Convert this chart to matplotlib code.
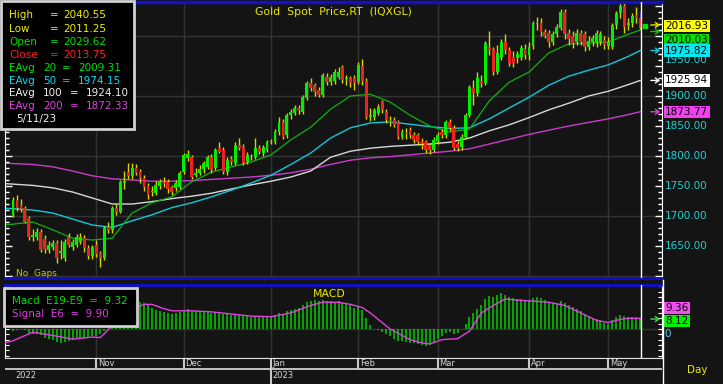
import numpy as np
import pandas as pd
import matplotlib
matplotlib.use('Agg')
import matplotlib.pyplot as plt
from matplotlib.patches import Rectangle

W, H = 723, 384
BG = '#141414'
GRID = '#333333'
YEL = '#e8e800'

dates = pd.bdate_range('2022-10-03', '2023-05-11')

# daily candles (open, high, low, close)
opens = [1702, 1727, 1718, 1713, 1697, 1665, 1665, 1673, 1662, 1643,
         1648, 1655, 1638, 1630, 1665, 1648, 1652, 1657, 1663, 1647,
         1633, 1652, 1638, 1630, 1682, 1677, 1713, 1707, 1755, 1773,
         1767, 1780, 1773, 1763, 1750, 1740, 1738, 1750, 1757, 1757,
         1748, 1747, 1748, 1773, 1797, 1798, 1768, 1772, 1778, 1782,
         1798, 1780, 1813, 1810, 1773, 1795, 1788, 1818, 1815, 1790,
         1798, 1798, 1813, 1805, 1810, 1824, 1823, 1840, 1857, 1835,
         1868, 1872, 1880, 1873, 1897, 1922, 1918, 1910, 1902, 1932,
         1923, 1925, 1932, 1948, 1928, 1930, 1930, 1923, 1950, 1925,
         1865, 1865, 1872, 1890, 1873, 1858, 1860, 1857, 1832, 1838,
         1843, 1835, 1835, 1823, 1823, 1818, 1810, 1825, 1840, 1835,
         1857, 1847, 1820, 1815, 1832, 1868, 1913, 1905, 1925, 1922,
         1982, 1978, 1940, 1965, 1990, 1977, 1965, 1963, 1965, 1978,
         1968, 1983, 2020, 2022, 2007, 2005, 1990, 2003, 2014, 2040,
         2005, 2000, 1990, 2005, 2003, 1982, 1990, 1988, 1990, 1993,
         1983, 1982, 2018, 2038, 2050, 2018, 2022, 2035, 2029.62]
highs = [1731, 1735, 1728, 1716, 1700, 1678, 1680, 1678, 1668, 1658,
         1660, 1660, 1660, 1662, 1672, 1662, 1670, 1672, 1668, 1652,
         1652, 1660, 1642, 1683, 1690, 1717, 1720, 1760, 1775, 1788,
         1788, 1787, 1778, 1768, 1755, 1750, 1758, 1762, 1765, 1762,
         1752, 1760, 1775, 1805, 1810, 1802, 1780, 1785, 1792, 1802,
         1804, 1813, 1823, 1815, 1798, 1800, 1823, 1830, 1820, 1806,
         1804, 1830, 1818, 1818, 1826, 1828, 1845, 1865, 1862, 1872,
         1878, 1885, 1885, 1902, 1925, 1930, 1922, 1915, 1938, 1938,
         1936, 1945, 1948, 1952, 1935, 1934, 1935, 1957, 1962, 1930,
         1880, 1880, 1887, 1893, 1878, 1866, 1865, 1860, 1845, 1847,
         1848, 1840, 1838, 1830, 1827, 1822, 1832, 1840, 1845, 1860,
         1862, 1852, 1825, 1836, 1872, 1918, 1927, 1940, 1935, 1992,
         2008, 1982, 1985, 1995, 2003, 1982, 1975, 1975, 1985, 1987,
         1990, 2025, 2032, 2030, 2012, 2010, 2008, 2020, 2045, 2045,
         2012, 2008, 2012, 2010, 2008, 2000, 2002, 2010, 2008, 2000,
         1998, 2022, 2042, 2072, 2062, 2030, 2038, 2048, 2040.55]
lows = [1698, 1708, 1707, 1688, 1660, 1658, 1660, 1640, 1638, 1638,
        1644, 1622, 1628, 1625, 1648, 1644, 1648, 1654, 1640, 1628,
        1628, 1632, 1615, 1627, 1672, 1672, 1702, 1705, 1745, 1762,
        1762, 1768, 1755, 1742, 1728, 1733, 1735, 1745, 1748, 1738,
        1735, 1742, 1745, 1770, 1792, 1762, 1765, 1768, 1772, 1778,
        1772, 1776, 1805, 1770, 1768, 1785, 1785, 1810, 1785, 1786,
        1794, 1795, 1803, 1800, 1806, 1820, 1820, 1835, 1828, 1830,
        1862, 1868, 1870, 1870, 1893, 1908, 1900, 1898, 1898, 1918,
        1918, 1920, 1928, 1922, 1918, 1915, 1910, 1920, 1918, 1862,
        1858, 1860, 1868, 1872, 1855, 1850, 1848, 1828, 1828, 1828,
        1830, 1822, 1818, 1812, 1805, 1804, 1806, 1820, 1830, 1830,
        1842, 1810, 1808, 1810, 1828, 1865, 1885, 1900, 1915, 1918,
        1968, 1935, 1936, 1960, 1970, 1950, 1948, 1955, 1960, 1962,
        1960, 1978, 2010, 2000, 1996, 1982, 1985, 1998, 2010, 1995,
        1985, 1980, 1985, 1985, 1975, 1976, 1984, 1982, 1985, 1978,
        1978, 1978, 2012, 2030, 2005, 2010, 2015, 2022, 2011.25]
closes = [1727, 1714, 1712, 1690, 1665, 1668, 1673, 1643, 1645, 1652,
          1655, 1630, 1642, 1657, 1652, 1657, 1665, 1665, 1647, 1633,
          1648, 1637, 1630, 1680, 1677, 1713, 1707, 1757, 1758, 1767,
          1780, 1772, 1763, 1748, 1735, 1742, 1752, 1757, 1755, 1745,
          1740, 1755, 1772, 1802, 1803, 1765, 1772, 1778, 1788, 1798,
          1777, 1810, 1807, 1773, 1793, 1790, 1818, 1813, 1788, 1802,
          1799, 1813, 1807, 1815, 1823, 1825, 1840, 1857, 1832, 1868,
          1873, 1880, 1876, 1898, 1922, 1913, 1907, 1902, 1935, 1923,
          1932, 1940, 1940, 1927, 1930, 1922, 1922, 1952, 1925, 1865,
          1868, 1877, 1882, 1877, 1860, 1857, 1852, 1832, 1840, 1837,
          1835, 1827, 1823, 1822, 1810, 1810, 1827, 1835, 1835, 1857,
          1847, 1813, 1813, 1832, 1868, 1915, 1905, 1930, 1922, 1988,
          1977, 1940, 1972, 1990, 1977, 1955, 1955, 1970, 1980, 1968,
          1982, 2022, 2021, 2007, 2000, 1990, 2003, 2015, 2040, 2003,
          1995, 1988, 2005, 1990, 1982, 1992, 1997, 2005, 2003, 1985,
          1990, 2018, 2038, 2050, 2015, 2022, 2033, 2030, 2013.75]
last_price = 2016.93

# moving averages, read every few bars
ema_idx = [-2, 5, 10, 15, 20, 25, 30, 35, 40, 45, 50, 55, 60, 65, 70, 75, 80,
           85, 90, 95, 100, 105, 110, 115, 120, 125, 130, 135, 140, 145, 150,
           155, 158]
ema20 = [1685, 1690, 1677, 1663, 1660, 1663, 1705, 1722, 1732, 1757, 1773,
         1782, 1790, 1802, 1827, 1848, 1878, 1900, 1903, 1890, 1868, 1850,
         1840, 1845, 1892, 1923, 1940, 1972, 1987, 1988, 1990, 2003, 2010.03]
ema50 = [1713, 1710, 1705, 1695, 1685, 1681, 1692, 1702, 1714, 1722, 1732,
         1743, 1755, 1768, 1786, 1805, 1830, 1847, 1855, 1857, 1853, 1849,
         1846, 1847, 1862, 1880, 1898, 1918, 1933, 1943, 1952, 1966, 1975.82]
ema100 = [1754, 1751, 1747, 1740, 1730, 1720, 1720, 1724, 1729, 1733, 1738,
          1745, 1752, 1758, 1765, 1775, 1798, 1808, 1813, 1816, 1818, 1820,
          1823, 1830, 1842, 1852, 1864, 1877, 1888, 1900, 1908, 1919, 1925.94]
ema200 = [1788, 1786, 1782, 1775, 1767, 1762, 1760, 1758, 1758, 1759, 1761,
          1763, 1765, 1768, 1772, 1778, 1786, 1793, 1797, 1799, 1802, 1805,
          1808, 1812, 1820, 1828, 1836, 1843, 1850, 1856, 1862, 1869, 1873.77]

legend_vals = [2040.55, 2011.25, 2029.62, 2013.75, 2009.31, 1974.15, 1924.10, 1872.33]

macd = [-2, -1, 0, -1, -4, -5, -5, -6, -8, -9,
        -10, -12, -13, -12, -11, -10, -9, -9, -9, -8,
        -7, -7, -5, -2, -1, 3, 7, 12, 15, 17,
        19, 22, 25, 24, 22, 20, 18, 17, 16, 15,
        14, 15, 16, 18, 19, 17, 17, 16, 16, 16,
        15, 16, 16, 14, 14, 13, 14, 13, 12, 12,
        11, 12, 11, 11, 11, 12, 13, 15, 14, 17,
        18, 19, 20, 22, 25, 26, 27, 26, 27, 26,
        26, 25, 26, 24, 23, 22, 20, 21, 18, 10,
        4, 0, -1, -3, -5, -7, -9, -11, -11, -12,
        -13, -13, -14, -15, -16, -15, -12, -9, -7, -4,
        -3, -5, -4, 0, 5, 11, 15, 19, 22, 28,
        31, 30, 32, 34, 32, 30, 29, 28, 28, 27,
        27, 29, 30, 29, 27, 25, 24, 24, 26, 24,
        22, 21, 19, 17, 14, 12, 10, 9, 8, 6,
        5, 8, 11, 13, 12, 11, 11, 11, 9.32]
sig_idx = [-2, 0, 5, 10, 15, 20, 22, 25, 28, 30, 33, 35, 38, 40, 45, 50, 55,
           60, 65, 70, 75, 78, 82, 85, 88, 90, 95, 100, 103, 105, 108, 112,
           115, 118, 121, 124, 127, 131, 135, 139, 143, 147, 150, 153, 155, 158]
sig_val = [-13, -11, -3, -6, -9.5, -7.5, -8, 3, 14, 18, 23, 23, 19, 17, 17,
           16, 14, 12, 11.5, 15, 22, 25, 25, 23, 20, 15, 0, -10, -13, -14,
           -10, -9, -2, 15, 22, 28, 27, 26, 25, 22, 15, 8, 6, 9, 10, 9.9]
macd_lbl = [9.36, 8.12]

x = np.arange(len(dates))
month_start = [i for i in range(1, len(dates)) if dates[i].month != dates[i - 1].month]
month_names = [dates[i].strftime('%b') for i in month_start]

# pixel <-> data mapping of the panels
XL = (-2.02, 163.5)


def px_axes(x0, y0, x1, y1):
    return fig.add_axes([x0 / W, 1 - y1 / H, (x1 - x0) / W, (y1 - y0) / H])


def ftxt(px, py, s, **kw):
    fig.text(px / W, 1 - py / H, s, **kw)


def arrow(axis, val, col, dy=0):
    axis.annotate('', xy=(0.997, val), xycoords=axis.get_yaxis_transform(),
                  xytext=(0.983, val), annotation_clip=False,
                  arrowprops=dict(arrowstyle='->,head_length=0.25,head_width=0.18',
                                  color=col, lw=1, shrinkA=0, shrinkB=0,
                                  ),
                  zorder=6).set_transform(axis.get_yaxis_transform())


fig = plt.figure(figsize=(W / 100, H / 100), dpi=100, facecolor=BG)

# ---------------- price panel ----------------
ax = px_axes(5, 2, 662, 278)
ax.set_facecolor(BG)
ax.set_xlim(*XL)
ax.set_ylim(1596.7, 2056.7)
for p in [1600, 1700, 1800, 1900, 2000]:
    ax.axhline(p, color=GRID, lw=1, zorder=0)
for m in month_start:
    ax.axvline(m, color=GRID, lw=1, zorder=0)

o = np.array(opens); c = np.array(closes)
up = c >= o
ax.vlines(x[:-1], lows[:-1], highs[:-1], color='#d8d800', lw=1, zorder=2)
ax.vlines(x[-1], lows[-1], max(o[-1], c[-1]), color='#d8d800', lw=1, zorder=2)
ax.vlines(x[-1], max(o[-1], c[-1]), highs[-1], color='#3030ff', lw=1, zorder=2)
body = np.maximum(np.abs(c - o), 0.8)
ax.bar(x, body, bottom=np.minimum(o, c), width=0.72,
       color=np.where(up, '#00ee00', '#ee2020'), lw=0, zorder=3)

ax.plot(ema_idx, ema200, color='#c83cc8', lw=1.0, zorder=1)
ax.plot(ema_idx, ema100, color='#d8d8d8', lw=1.0, zorder=1)
ax.plot(ema_idx, ema50, color='#10c8d8', lw=1.0, zorder=1)
ax.plot(ema_idx, ema20, color='#10b010', lw=0.9, zorder=1)

ax.axvline(x[-1] + 0.3, color='white', lw=1, zorder=4)
ax.plot([x[-1] + 1.3], [last_price], 's', color='#00e000', ms=3, zorder=5)

ax.set_yticks(np.arange(1600, 2051, 50))
ax.set_yticks(np.arange(1600, 2051, 10), minor=True)
ax.set_xticks([])
ax.tick_params(axis='y', which='both', left=True, right=True, direction='in',
               colors='white', labelleft=False, labelright=False)
ax.tick_params(axis='y', which='major', length=5, width=1)
ax.tick_params(axis='y', which='minor', length=3, width=1)
for s in ['left', 'right']:
    ax.spines[s].set_color('white')
ax.spines['top'].set_color('#1010c8')
ax.spines['top'].set_linewidth(2.5)
ax.spines['bottom'].set_color('#1010c8')
ax.spines['bottom'].set_linewidth(2)

ax.text(0.5, 0.965, 'Gold  Spot  Price,RT  (IQXGL)', transform=ax.transAxes,
        ha='center', va='center', color=YEL, fontsize=7.8)
ax.text(0.016, 0.018, 'No  Gaps', transform=ax.transAxes, ha='left',
        va='center', color='#c8c800', fontsize=6.5)

# right-hand value labels
ty = ax.get_yaxis_transform()
for p in [1650, 1700, 1750, 1800, 1850, 1900]:
    ax.text(1.005, p, f'{p:.2f}', transform=ty, ha='left', va='center',
            color='#20d0d0', fontsize=7.5, clip_on=False)
ax.annotate('1950.00', (1.005, 1950), xycoords=ty, xytext=(0, 4.5),
            textcoords='offset points', ha='left', va='center',
            color='#20d0d0', fontsize=7.5, annotation_clip=False)
boxes = [(last_price, '#ffff00', 0), (ema20[-1], '#00e000', -7.2),
         (ema50[-1], '#00e8f0', 0), (ema100[-1], 'white', 0),
         (ema200[-1], '#f040f0', 0)]
for val, col, off in boxes:
    ax.annotate(f'{val:.2f}', (1.005, val), xycoords=ty, xytext=(0, off),
                textcoords='offset points', ha='left', va='center',
                color='black', fontsize=7.5, annotation_clip=False,
                bbox=dict(boxstyle='square,pad=0.12', fc=col, ec='none'))
arrows = [(last_price + 1.5, '#e8e800'), (ema20[-1] - 2.5, '#00d000'),
          (ema50[-1], '#10d0e0'), (ema100[-1], 'white'), (ema200[-1], '#e040e0')]
for val, col in arrows:
    arrow(ax, val, col)

# ---------------- MACD panel ----------------
am = px_axes(5, 285, 662, 358)
am.set_facecolor(BG)
am.set_xlim(*XL)
am.set_ylim(-27.1, 41.1)
am.axhline(0, color=GRID, lw=1, zorder=0)
for m in month_start:
    am.axvline(m, color=GRID, lw=1, zorder=0)
am.vlines(x, 0, macd, color='#00d000', lw=1.1, zorder=2)
am.plot(sig_idx, sig_val, color='#e040e0', lw=1, zorder=3)
am.axvline(x[-1] + 0.3, color='white', lw=1, zorder=4)
am.set_yticks(np.arange(-25, 41, 5))
am.set_xticks([])
am.tick_params(axis='y', left=True, right=True, direction='in', colors='white',
               length=3, labelleft=False, labelright=False)
for s in ['left', 'right', 'bottom']:
    am.spines[s].set_color('white')
am.spines['top'].set_color('#1010c8')
am.spines['top'].set_linewidth(2)
am.text(0.494, 0.88, 'MACD', transform=am.transAxes, ha='center', va='center',
        color=YEL, fontsize=7.8)
tm = am.get_yaxis_transform()
am.annotate(f'{macd_lbl[0]:.2f}', (1.005, macd_lbl[0]), xycoords=tm,
            xytext=(0, 7.6), textcoords='offset points', ha='left', va='center',
            color='black', fontsize=7.5, annotation_clip=False,
            bbox=dict(boxstyle='square,pad=0.1', fc='#f050f0', ec='none'))
am.annotate(f'{macd_lbl[1]:.2f}', (1.005, macd_lbl[1]), xycoords=tm,
            xytext=(0, -0.8), textcoords='offset points', ha='left', va='center',
            color='black', fontsize=7.5, annotation_clip=False,
            bbox=dict(boxstyle='square,pad=0.1', fc='#00f000', ec='none'))
am.annotate('0', (1.003, 0), xycoords=tm, xytext=(0, -3.5),
            textcoords='offset points', ha='left', va='center',
            color='#60c8f0', fontsize=7.5, annotation_clip=False)
arrow(am, macd[-1], '#40e040')

# ---------------- date rows ----------------
ad = px_axes(5, 358, 662, 384)
ad.set_facecolor(BG)
ad.set_xlim(*XL)
ad.set_ylim(0, 26)
ad.axhline(15, color='#e0e0e0', lw=1.2)
for m, name in zip(month_start, month_names):
    yr = dates[m].month == 1
    ad.vlines(m, 0 if yr else 15, 26, color='#c8c8c8', lw=1.5)
    ad.text(m + 0.4, 20.5, name, color='#d8d8d8', fontsize=6, ha='left',
            va='center')
    if yr:
        ad.text(m + 0.4, 8, str(dates[m].year), color='#d8d8d8',
                fontsize=6, ha='left', va='center')
ad.text(0.7, 8, str(dates[0].year), color='#d8d8d8', fontsize=6, ha='left',
        va='center')
ad.set_xticks([]); ad.set_yticks([])
for s in ad.spines.values():
    s.set_visible(False)
ad.spines['top'].set_visible(True)
ad.spines['top'].set_color('#e0e0e0')

fig.add_artist(plt.Line2D([662.5 / W] * 2, [0, 1 - 280 / H], color='white', lw=1))
ftxt(697, 370, 'Day', color=YEL, fontsize=7.5, ha='center', va='center')

# ---------------- legend boxes ----------------
fig.add_artist(Rectangle((1 / W, 1 - 129 / H), 133 / W, 128 / H,
                         transform=fig.transFigure, fc='black',
                         ec='#d0d0d0', lw=2, zorder=10))
rows = [('High', '#f0f000'), ('Low', '#f0f000'), ('Open', '#00e000'),
        ('Close', '#ff2020'), ('EAvg', '#00e000'), ('EAvg', '#00e0f0'),
        ('EAvg', '#f0f0f0'), ('EAvg', '#e040e0')]
periods = ['', '', '', '', '20', '50', '100', '200']
ys = [15, 29, 42, 55, 68, 81, 93, 106]
for (name, col), per, val, yy in zip(rows, periods, legend_vals, ys):
    kw = dict(color=col, fontsize=7.5, va='center', zorder=11)
    ftxt(9, yy, name, **kw)
    if per:
        ftxt(43, yy, per, **kw)
        eq = 62 if len(per) == 2 else 70
        ftxt(eq, yy, '=', **kw)
        ftxt(eq + 16, yy, f'{val:.2f}', **kw)
    else:
        ftxt(50, yy, '=', **kw)
        ftxt(63, yy, f'{val:.2f}', **kw)
ftxt(16, 119, dates[-1].strftime('%-m/%-d/%y'), color='#f0f0f0', fontsize=7.5,
     va='center', zorder=11)

fig.add_artist(Rectangle((4 / W, 1 - 326 / H), 133 / W, 38 / H,
                         transform=fig.transFigure, fc='black',
                         ec='#d0d0d0', lw=2, zorder=10))
ftxt(12, 301, f'Macd  E19-E9  =  {macd[-1]:.2f}', color='#00e000',
     fontsize=7.5, va='center', zorder=11)
ftxt(12, 314, f'Signal  E6  =  {sig_val[-1]:.2f}', color='#e040e0',
     fontsize=7.5, va='center', zorder=11)

fig.savefig('out.png', dpi=100, facecolor=BG)
